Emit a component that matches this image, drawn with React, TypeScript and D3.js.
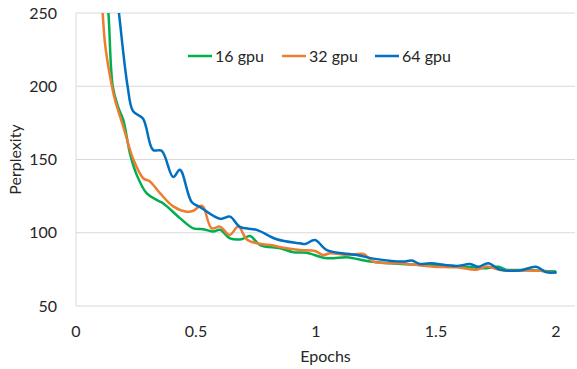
import React from "react";
import * as d3 from "d3";

// epochs / perplexity
const epochs16 = [0.12, 0.135, 0.153, 0.175, 0.197, 0.225, 0.253, 0.294, 0.336, 0.364, 0.433, 0.489, 0.531, 0.572, 0.6, 0.642, 0.69, 0.725, 0.767, 0.85, 0.908, 0.961, 1.03, 1.072, 1.128, 1.225, 1.308, 1.447, 1.55, 1.65, 1.7, 1.76, 1.79, 1.85, 1.92, 2.0];
const ppl16 = [275, 250, 200, 186, 177, 154, 139.5, 127, 122.4, 120, 110, 103, 102.4, 100.8, 102, 96.2, 95.6, 97.8, 91.6, 89.4, 86.6, 86.4, 83, 82.6, 83.3, 80.3, 79.2, 78, 77.5, 76.5, 75.7, 76.8, 74.8, 74.6, 74.3, 73.6];

const epochs32 = [0.1, 0.11, 0.121, 0.142, 0.1625, 0.197, 0.239, 0.28, 0.308, 0.35, 0.405, 0.461, 0.489, 0.517, 0.53, 0.565, 0.6, 0.64, 0.676, 0.711, 0.753, 0.808, 0.878, 0.933, 0.996, 1.03, 1.058, 1.135, 1.197, 1.239, 1.35, 1.46, 1.49, 1.586, 1.67, 1.711, 1.767, 1.85, 1.93, 2.0];
const ppl32 = [270, 252, 229, 206.6, 190.7, 172.5, 150, 137.2, 135, 127, 118, 114.4, 115, 118.3, 117.8, 103, 104.2, 98.5, 104.2, 95.6, 92.8, 91.6, 89.4, 88.2, 87.5, 84.8, 86, 84.8, 85.5, 80.3, 79.2, 77.3, 76.8, 76.4, 74.8, 77, 74.6, 74.3, 74, 72.5];

const epochs64 = [0.165, 0.179, 0.215, 0.2375, 0.279, 0.321, 0.357, 0.405, 0.433, 0.482, 0.517, 0.6, 0.642, 0.683, 0.753, 0.836, 0.933, 0.954, 0.996, 1.045, 1.17, 1.253, 1.364, 1.399, 1.433, 1.475, 1.586, 1.642, 1.676, 1.718, 1.767, 1.85, 1.917, 1.961, 2.003];
const ppl64 = [270, 250, 200, 183, 178, 156.5, 156, 138, 143, 121, 117.5, 109.5, 111, 104, 102, 95.6, 92.8, 92.3, 95, 88.2, 84.8, 82, 80.3, 81, 78.7, 79.2, 77.3, 78.7, 76.8, 79.2, 74.8, 74.3, 76.8, 73, 73];

const seriesNames = ["16 gpu", "32 gpu", "64 gpu"];
const seriesColors = ["#00b050", "#ed7d31", "#0070c0"];
const yTicks = [50, 100, 150, 200, 250];
const xTicks = [0, 0.5, 1, 1.5, 2];

const W = 577;
const H = 369;
const plot = { left: 76, right: 575, top: 13, bottom: 306 };
const font = "Lato, 'Open Sans', sans-serif";

export default function App() {
  const x = d3.scaleLinear().domain([0, 2]).range([plot.left, plot.left + 480]);
  const y = d3.scaleLinear().domain([50, 250]).range([plot.bottom, plot.top]);

  const line = d3
    .line<[number, number]>()
    .x((d) => x(d[0]))
    .y((d) => y(d[1]))
    .curve(d3.curveCatmullRom.alpha(0.5));

  const series = [
    epochs16.map((e, i) => [e, ppl16[i]] as [number, number]),
    epochs32.map((e, i) => [e, ppl32[i]] as [number, number]),
    epochs64.map((e, i) => [e, ppl64[i]] as [number, number]),
  ];

  const legendX = [188, 282, 375];

  return (
    <svg
      width={W}
      height={H}
      style={{ position: "absolute", left: 0, top: 0, background: "#fff" }}
      fontFamily={font}
    >
      <defs>
        <clipPath id="plot-clip">
          <rect x={plot.left} y={plot.top} width={plot.right - plot.left} height={plot.bottom - plot.top} />
        </clipPath>
      </defs>

      {/* horizontal grid */}
      {yTicks.map((t) => (
        <line key={t} x1={plot.left} x2={plot.right} y1={y(t)} y2={y(t)} stroke="#d9d9d9" strokeWidth={1} />
      ))}
      <line x1={plot.left} x2={plot.left} y1={plot.top} y2={plot.bottom} stroke="#d9d9d9" strokeWidth={1} />

      {/* y tick labels */}
      {yTicks.map((t) => (
        <text key={t} x={57} y={y(t)} dy="0.35em" textAnchor="end" fontSize={16} fill="#262626">
          {t}
        </text>
      ))}

      {/* x tick labels */}
      {xTicks.map((t) => (
        <text key={t} x={x(t)} y={337} textAnchor="middle" fontSize={16} fill="#262626">
          {t}
        </text>
      ))}

      {/* lines */}
      <g clipPath="url(#plot-clip)">
        {series.map((s, i) => (
          <path key={i} d={line(s) || ""} fill="none" stroke={seriesColors[i]} strokeWidth={2.5} strokeLinejoin="round" />
        ))}
      </g>

      {/* legend */}
      {seriesNames.map((n, i) => (
        <g key={n}>
          <line x1={legendX[i]} x2={legendX[i] + 24} y1={56} y2={56} stroke={seriesColors[i]} strokeWidth={2.5} />
          <text x={legendX[i] + 27} y={56} dy="0.35em" fontSize={16} fill="#262626">
            {n}
          </text>
        </g>
      ))}

      {/* axis titles */}
      <text x={(plot.left + plot.right) / 2} y={362} textAnchor="middle" fontSize={16} fill="#262626">
        Epochs
      </text>
      <text
        transform={`translate(21,${(plot.top + plot.bottom) / 2}) rotate(-90)`}
        textAnchor="middle"
        fontSize={16}
        fill="#262626"
      >
        Perplexity
      </text>
    </svg>
  );
}
